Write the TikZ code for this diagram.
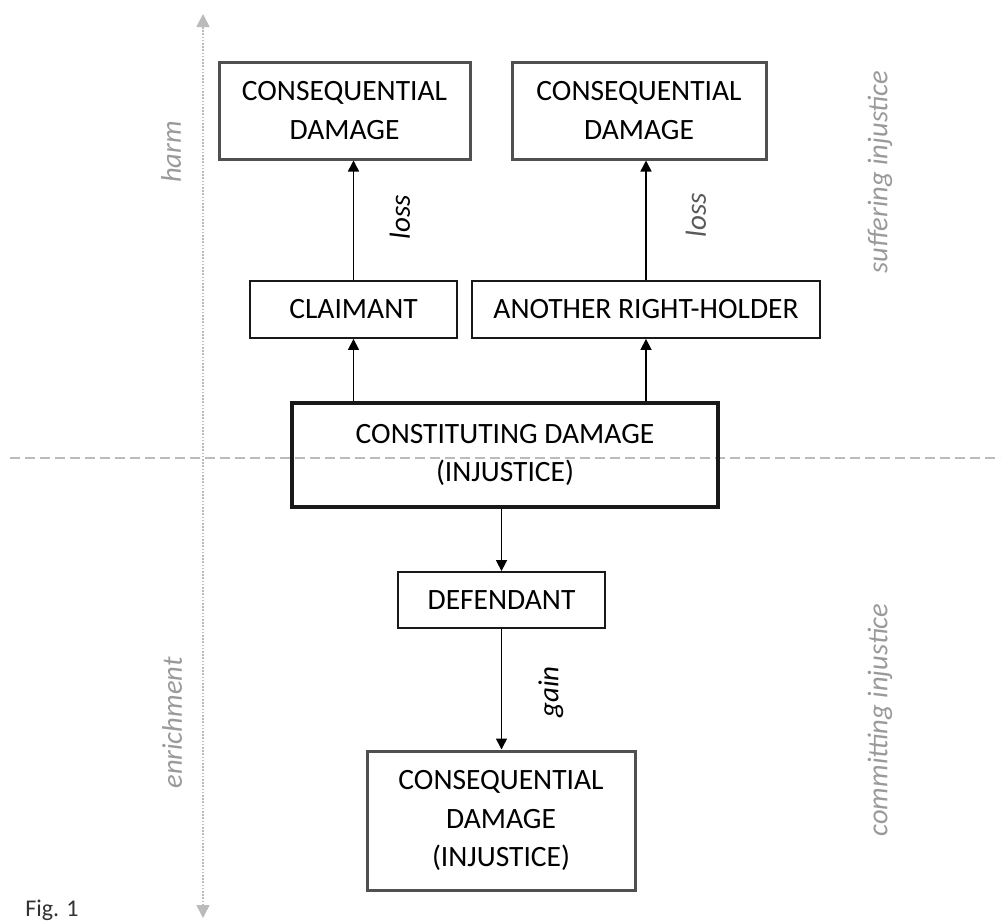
\documentclass[tikz,border=0pt]{standalone}
\usepackage{fontspec}
\setmainfont{Carlito}
\usetikzlibrary{arrows.meta}
\definecolor{axisgray}{HTML}{BBBBBB}
\definecolor{labelgray}{HTML}{9A9A9A}
\definecolor{boxgray}{HTML}{505050}
\tikzset{
  thinbox/.style={draw=black!90, line width=1.8pt, inner sep=0pt, align=center, font=\fontsize{29.5}{38.5}\selectfont},
  thickbox/.style={draw=boxgray, line width=3pt, inner sep=0pt, align=center, font=\fontsize{29.5}{38.5}\selectfont},
  mainbox/.style={draw=black!90, line width=3.5pt, inner sep=0pt, align=center, font=\fontsize{29.5}{38.5}\selectfont},
  arr/.style={line width=1.5pt, -{Triangle[width=11pt,length=11pt]}},
  sidelabel/.style={rotate=90, text=labelgray, font=\fontsize{28.5}{32}\selectfont\itshape},
  flowlabel/.style={rotate=90, font=\fontsize{29}{32}\selectfont\itshape},
  axis/.style={draw=axisgray, line width=1.6pt}
}
\begin{document}
\begin{tikzpicture}[x=1pt,y=-1pt]
\useasboundingbox[fill=white] (0,0) rectangle (1003,922);
% axes
\coordinate (axtop) at (203,14);
\coordinate (axbot) at (203,918);
\coordinate (hl) at (10,458);
\coordinate (hr) at (1000,458);
\draw[axis, dash pattern=on 1.6pt off 1.6pt, {Triangle[width=13pt,length=13pt,fill=axisgray]}-{Triangle[width=13pt,length=13pt,fill=axisgray]}] (axbot) -- (axtop);
\draw[axis, line width=1.3pt, dash pattern=on 10pt off 5pt] (hl) -- (hr);
% boxes
\node[thickbox, minimum width=251pt, minimum height=97pt] (cdl) at (344.5,110.5) {CONSEQUENTIAL\\DAMAGE};
\node[thickbox, minimum width=254pt, minimum height=97pt] (cdr) at (639,110.5) {CONSEQUENTIAL\\DAMAGE};
\node[thinbox, minimum width=207pt, minimum height=57pt] (claim) at (353.5,309.5) {CLAIMANT};
\node[thinbox, minimum width=348pt, minimum height=57pt] (other) at (646,309.5) {ANOTHER RIGHT-HOLDER};
\node[mainbox, minimum width=426pt, minimum height=104pt] (con) at (505,455) {CONSTITUTING DAMAGE\\(INJUSTICE)};
\node[thinbox, minimum width=207pt, minimum height=56pt] (def) at (501.5,600) {DEFENDANT};
\node[thickbox, minimum width=268pt, minimum height=139pt] (cdb) at (501,820.5) {CONSEQUENTIAL\\DAMAGE\\(INJUSTICE)};
% connectors
\draw[arr] (claim.north) -- (claim.north |- cdl.south);
\draw[arr] (other.north) -- (other.north |- cdr.south);
\draw[arr] (claim.south |- con.north) -- (claim.south);
\draw[arr] (other.south |- con.north) -- (other.south);
\draw[arr] (def.north |- con.south) -- (def.north);
\draw[arr] (def.south) -- (def.south |- cdb.north);
% flow labels
\node[flowlabel] (loss1) at (400,217) {loss};
\node[flowlabel, text=black!65] (loss2) at (696,215) {loss};
\node[flowlabel] (gain) at (551,692) {gain};
% side labels
\node[sidelabel] (harm) at (171,152) {harm};
\node[sidelabel] (enrich) at (172,723) {enrichment};
\node[sidelabel] (suffer) at (880,172) {suffering injustice};
\node[sidelabel] (commit) at (880,720) {committing injustice};
\node[font=\fontsize{24}{28}\selectfont, text=black!80] (fig) at (52,910) {Fig. 1};
\end{tikzpicture}
\end{document}
